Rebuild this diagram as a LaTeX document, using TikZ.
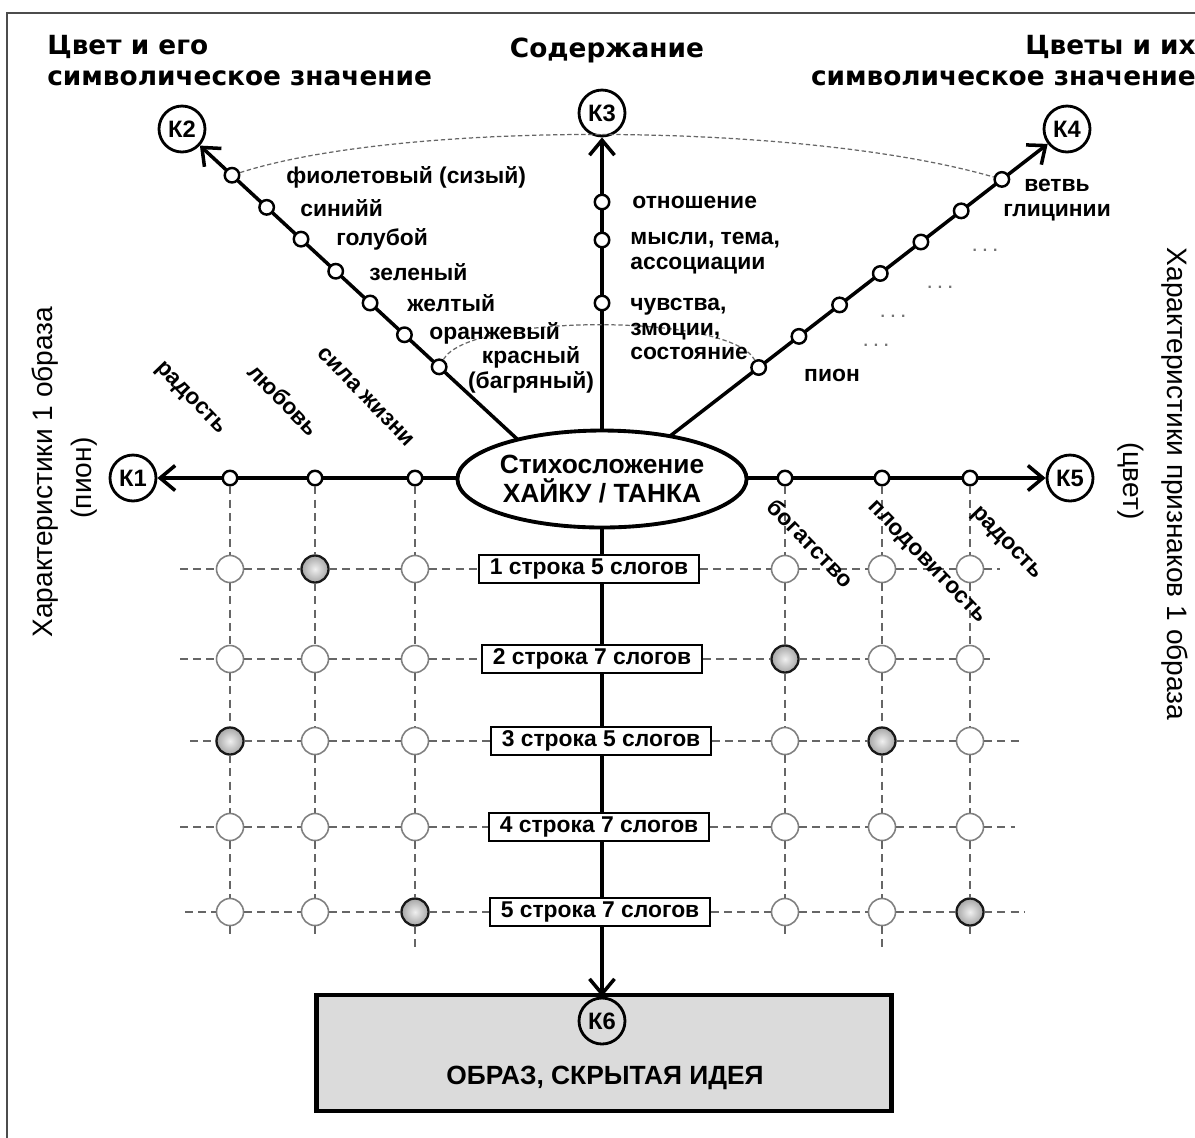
\documentclass[tikz,border=0pt]{standalone}
\usepackage{fontspec}
\setmainfont{Liberation Sans}
\newfontfamily\headfont{DejaVu Sans}
\usetikzlibrary{arrows.meta,shapes.geometric,positioning,calc}

\tikzset{
	axis/.style={line width=2pt,-{Straight Barb[length=3mm,width=5mm]}},
	kcirc/.style={circle,draw,line width=1.6pt,fill=white,minimum size=0.92cm,inner sep=0pt,font=\bfseries\fontsize{13.5}{13.5}\selectfont},
	dot/.style={circle,draw,line width=1.4pt,fill=white,minimum size=0.29cm,inner sep=0pt},
	cell/.style={circle,draw=black!50,line width=0.9pt,fill=white,minimum size=0.54cm,inner sep=0pt},
	hit/.style={cell,draw=black!90,line width=1.3pt,inner color=black!6,outer color=black!35},
	grid/.style={black!60,line width=0.8pt,dash pattern=on 4.5pt off 3pt},
	link/.style={black!60,line width=0.7pt,dash pattern=on 2.5pt off 1.5pt},
	lbl/.style={font=\bfseries\fontsize{13}{14.2}\selectfont,align=left,inner sep=0pt},
	row/.style={draw,line width=1.3pt,fill=white,minimum width=4.4cm,minimum height=0.56cm,inner sep=1pt,font=\bfseries\fontsize{13}{14}\selectfont},
	head/.style={font=\headfont\bfseries\fontsize{15}{17.6}\selectfont,inner sep=0pt},
	side/.style={font=\fontsize{16}{18}\selectfont,inner sep=0pt},
	more/.style={text=black!55,font=\bfseries\fontsize{9}{9}\selectfont}
}

\begin{document}
\begin{tikzpicture}[x=0.02cm,y=-0.02cm]
	\useasboundingbox (0,0) rectangle (1195,1137);
	\clip (0,0) rectangle (1195,1137);
	\draw[black!70,line width=1.3pt] (7,1160) -- (7,13) -- (1220,13);

	% headings
	\node[head,anchor=west,align=left] (t2) at (47,61) {Цвет и его\\символическое значение};
	\node[head] (t3) at (607,50) {Содержание};
	\node[head,anchor=east,align=right] (t4) at (1196,61) {Цветы и их\\символическое значение};

	% criteria
	\node[kcirc] (k1) at (133,478) {К1};
	\node[kcirc] (k2) at (182,129) {К2};
	\node[kcirc] (k3) at (602,113) {К3};
	\node[kcirc] (k4) at (1067,129) {К4};
	\node[kcirc] (k5) at (1070,478) {К5};

	% axes start inside the ellipse
	\coordinate (o) at (602,478);
	\coordinate (e2) at (529,450);
	\coordinate (e4) at (652,450);
	\draw[axis] (o) -- (k1);
	\draw[axis] (e2) -- (k2);
	\draw[axis] (o) -- (k3);
	\draw[axis] (e4) -- (k4);
	\draw[axis] (o) -- (k5);

	\node[draw,ellipse,fill=white,line width=2.2pt,minimum width=5.58cm,minimum height=1.94cm,inner sep=0pt,align=center,font=\bfseries\fontsize{15}{17}\selectfont] (hk) at (602,479) {Стихосложение\\ХАЙКУ / ТАНКА};

	% result box
	\node[draw,line width=2.6pt,fill=black!14,minimum width=11.5cm,minimum height=2.32cm] (box) at (604,1053) {};
	\node[kcirc,fill=black!14] (k6) at (602,1021) {К6};
	\node[font=\bfseries\fontsize{15}{15}\selectfont] (idea) at (605,1078) {ОБРАЗ, СКРЫТАЯ ИДЕЯ};
	\draw[axis] (hk) -- (k6);

	% lines of the poem
	\node[row] (r1) at (589,569) {1 строка 5 слогов};
	\node[row] (r2) at (592,659) {2 строка 7 слогов};
	\node[row] (r3) at (601,741) {3 строка 5 слогов};
	\node[row] (r4) at (599,827) {4 строка 7 слогов};
	\node[row] (r5) at (600,912) {5 строка 7 слогов};

	% points on the axes
	\foreach \t [count=\i] in {0.259,0.359,0.458,0.557,0.657,0.756,0.856}
		\node[dot] (d2-\i) at ($(e2)!\t!(k2)$) {};
	\foreach \t [count=\i] in {0.257,0.354,0.452,0.550,0.648,0.745,0.843}
		\node[dot] (d4-\i) at ($(e4)!\t!(k4)$) {};
	\foreach \y [count=\i] in {303,240,202}
		\node[dot] (d3-\i) at (602,\y) {};
	\foreach \x [count=\c] in {230,315,415,785,882,970}
		\node[dot] (p\c) at (\x,478) {};

	% grid of features
	\foreach \y [count=\r] in {569,659,741,827,912}
		\foreach \x [count=\c] in {230,315,415,785,882,970}
			\node[cell] (c\r\c) at (\x,\y) {};
	\foreach \n in {12,24,31,35,53,56}
		\node[hit] (h\n) at (c\n) {};

	\foreach \x/\e [count=\c] in {230/935,315/935,415/950,785/935,882/950,970/935}
		\coordinate (v\c) at (\x,\e);
	\foreach \c in {1,...,6}
		\draw[grid] (p\c) -- (c1\c) -- (c2\c) -- (c3\c) -- (c4\c) -- (c5\c) -- (v\c);

	\foreach \y/\a/\b [count=\r] in {569/180/1000,659/180/990,741/190/1020,827/180/1015,912/185/1025}{
		\coordinate (hl\r) at (\a,\y);
		\coordinate (hr\r) at (\b,\y);
		\draw[grid] (hl\r) -- (c\r1) -- (c\r2) -- (c\r3) -- (r\r) -- (c\r4) -- (c\r5) -- (c\r6) -- (hr\r);
	}

	% dashed links
	\draw[link] (d2-7) .. controls (400,121) and (800,121) .. (d4-7);
	\draw[link] (d2-1) .. controls (470,313) and (730,313) .. (d4-1);

	% colours
	\node[lbl,anchor=west] (l21) at (286,177) {фиолетовый (сизый)};
	\node[lbl,anchor=west] (l22) at (300,208) {синийй};
	\node[lbl,anchor=west] (l23) at (336,239) {голубой};
	\node[lbl,anchor=west] (l24) at (369,272) {зеленый};
	\node[lbl,anchor=west] (l25) at (407,303) {желтый};
	\node[lbl,anchor=west] (l26) at (429,333) {оранжевый};
	\node[lbl,align=center] (l27) at (531,370) {красный\\(багряный)};

	% content
	\node[lbl,anchor=west] (l31) at (632,202) {отношение};
	\node[lbl,anchor=west] (l32) at (630,253) {мысли, тема,\\ассоциации};
	\node[lbl,anchor=west] (l33) at (630,329) {чувства,\\змоции,\\состояние};

	% flowers
	\node[lbl,align=center] (l41) at (1057,200) {ветвь\\глицинии};
	\node[lbl] (l42) at (832,375) {пион};
	\node[more] (m1) at (985,250) {. . .};
	\node[more] (m2) at (940,287) {. . .};
	\node[more] (m3) at (893,316) {. . .};
	\node[more] (m4) at (876,345) {. . .};

	% features of the image
	\node[lbl,rotate=-46] (w1) at (190,399) {радость};
	\node[lbl,rotate=-46] (w2) at (284,400) {любовь};
	\node[lbl,rotate=-46] (w3) at (366,397) {сила жизни};
	\node[lbl,rotate=-46] (w4) at (811,543) {богатство};
	\node[lbl,rotate=-46] (w5) at (926,563) {плодовитость};
	\node[lbl,rotate=-46] (w6) at (1006,544) {радость};

	\node[side,rotate=90] (s1) at (45,472) {Характеристики 1 образа};
	\node[side,rotate=90] (s2) at (84,478) {(пион)};
	\node[side,rotate=-90] (s3) at (1175,484) {Характеристики признаков 1 образа};
	\node[side,rotate=-90] (s4) at (1131,481) {(цвет)};
\end{tikzpicture}
\end{document}
